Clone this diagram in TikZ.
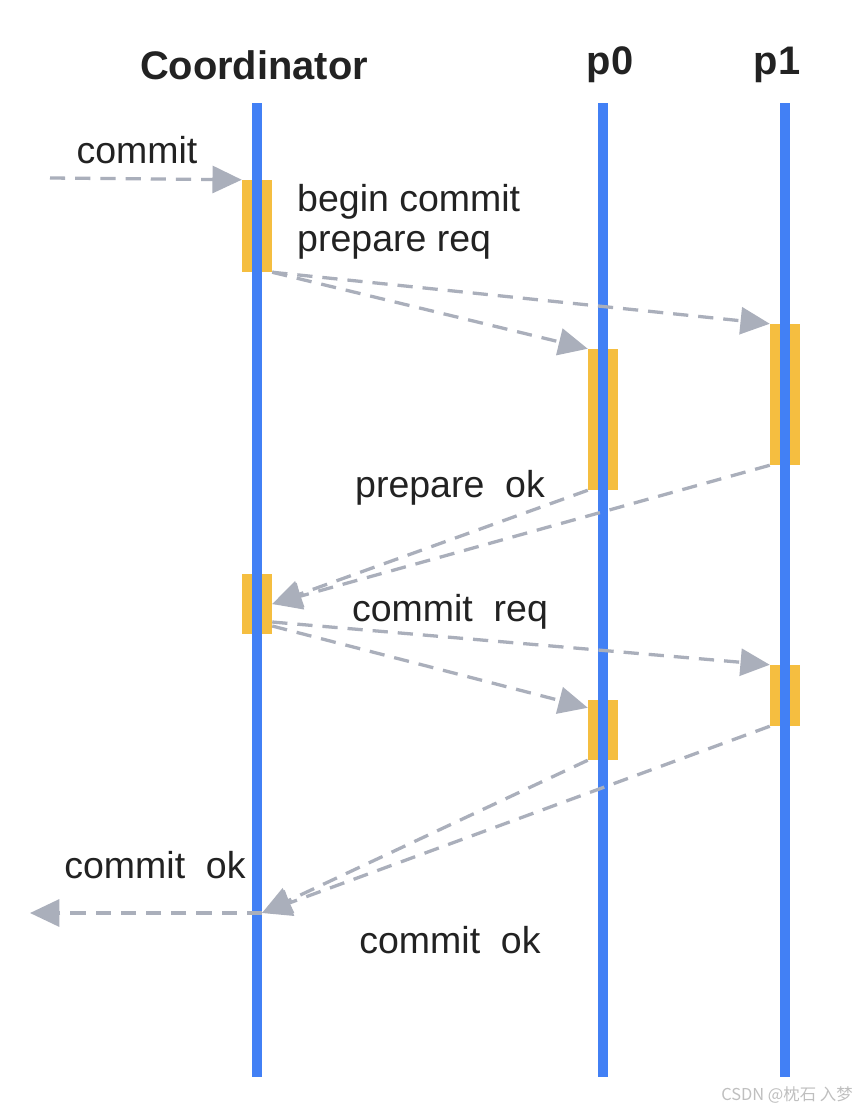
\documentclass[tikz,border=0pt]{standalone}
\usepackage{fontspec}
\setmainfont{Liberation Sans}
\newfontfamily\cjk{Noto Sans CJK SC}
\usetikzlibrary{positioning,arrows.meta,calc}
\definecolor{lineblue}{RGB}{66,128,245}
\definecolor{baryellow}{RGB}{245,190,64}
\definecolor{msggray}{RGB}{170,175,187}
\definecolor{txtgray}{RGB}{34,34,34}
\tikzset{
  lifeline/.style={draw=lineblue, line width=7.8pt},
  bar/.style={
    draw=none, fill=baryellow, inner sep=0pt,
    minimum width=0.9cm
  },
  msg/.style={
    draw=msggray, line width=2.8pt, dash pattern=on 13pt off 8.5pt,
    -{Triangle[length=25pt,width=23pt]}
  },
  head/.style={font=\fontsize{34}{36}\selectfont\bfseries, text=txtgray},
  label/.style={font=\fontsize{32}{34}\selectfont, text=txtgray, inner sep=0pt}
}
\begin{document}
\begin{tikzpicture}[x=0.03cm, y=-0.03cm]
  \useasboundingbox[fill=white] (0,0) rectangle (857,1111);

  % headers
  \node[head] (coord) at (254,65) {Coordinator};
  \node[head] (pzero) at (610,65) {p0};
  \node[head] (pone) at (777,65) {p1};

  % activation bars
  \node[bar, minimum height=2.76cm] (cbA) at (257,226) {};
  \node[bar, minimum height=4.23cm] (pzA) at (603,419.5) {};
  \node[bar, minimum height=4.23cm] (poA) at (785,394.5) {};
  \node[bar, minimum height=1.8cm] (cbB) at (257,604) {};
  \node[bar, minimum height=1.8cm] (pzB) at (603,730) {};
  \node[bar, minimum height=1.83cm] (poB) at (785,695.5) {};

  % lifelines
  \coordinate (cTop) at (257,103);
  \coordinate (cBot) at (257,1077);
  \coordinate (zTop) at (603,103);
  \coordinate (zBot) at (603,1077);
  \coordinate (oTop) at (785,103);
  \coordinate (oBot) at (785,1077);
  \draw[lifeline] (cTop) -- (cBot);
  \draw[lifeline] (zTop) -- (zBot);
  \draw[lifeline] (oTop) -- (oBot);

  % messages
  \coordinate (in) at (50,178);
  \coordinate (ret) at (262,913);
  \coordinate (out) at (30,913);
  \draw[msg] (in) -- (cbA.north west);
  \draw[msg] (cbA.south east) -- (pzA.north west);
  \draw[msg] (cbA.south east) -- (poA.north west);
  \draw[msg] (pzA.south west) -- (cbB.east);
  \draw[msg] (poA.south west) -- (cbB.east);
  \draw[msg] ($(cbB.east)+(0,18)$) -- (poB.north west);
  \draw[msg] ($(cbB.east)+(0,22)$) -- ($(pzB.north west)+(0,8)$);
  \draw[msg] (pzB.south west) -- (ret);
  \draw[msg] (poB.south west) -- (ret);
  \draw[msg] (ret) -- (out);

  % labels
  \node[label] (lCommit) at (137,150) {commit};
  \node[label, anchor=west, align=left] (lBegin) at (297,222) {begin commit\\prepare req};
  \node[label] (lPrepOk) at (450,488) {prepare\ \ ok};
  \node[label] (lCommitReq) at (450,612) {commit\ \ req};
  \node[label] (lOkOut) at (155,865) {commit\ \ ok};
  \node[label] (lOkIn) at (450,940) {commit\ \ ok};

  \node[anchor=east, text=black!25, font=\cjk\fontsize{14}{16}\selectfont, inner sep=0pt] (mark) at (853,1095) {CSDN @枕石 入梦};
\end{tikzpicture}
\end{document}
